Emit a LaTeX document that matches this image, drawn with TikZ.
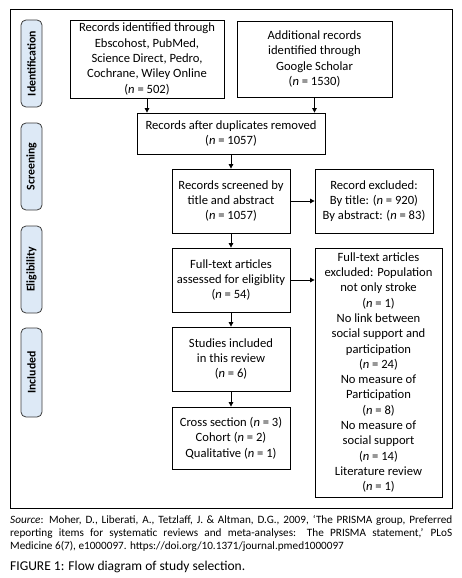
\documentclass[tikz,border=0pt]{standalone}
\usepackage{fontspec}
\setmainfont{Carlito}
\usetikzlibrary{arrows.meta}
\definecolor{lblfill}{RGB}{221,233,246}
\definecolor{lbldraw}{RGB}{60,60,60}
\begin{document}
\begin{tikzpicture}[x=1pt,y=-1pt,
  flowbox/.style={draw=black,line width=0.8pt,align=center,inner sep=1pt,
    font=\fontsize{12.6}{15.3}\selectfont},
  phase/.style={draw=lbldraw,fill=lblfill,line width=0.8pt,rounded corners=5pt,
    rotate=90,minimum height=21pt,inner sep=0pt,font=\fontsize{11.8}{12}\selectfont\bfseries},
  flowarrow/.style={line width=0.8pt,-{Triangle[length=4.5pt,width=4.5pt]}}]
\useasboundingbox (0,0) rectangle (462,578);
\draw[line width=0.8pt] (10,9) rectangle (452,508);
% phase labels
\node[phase,minimum width=87pt] (lid) at (31.5,63.5) {Identification};
\node[phase,minimum width=87pt] (lsc) at (31.5,166.5) {Screening};
\node[phase,minimum width=87pt] (lel) at (31.5,269.5) {Eligibility};
\node[phase,minimum width=89pt] (lin) at (31.5,372.5) {Included};
% boxes
\node[flowbox,minimum width=154pt,minimum height=78pt] (b1) at (147,59)
  {Records identified through\\Ebscohost, PubMed,\\Science Direct, Pedro,\\Cochrane, Wiley Online\\(\textit{n} = 502)};
\node[flowbox,minimum width=155pt,minimum height=76pt] (b2) at (314.5,59)
  {Additional records\\identified through\\Google Scholar\\(\textit{n} = 1530)};
\node[flowbox,minimum width=188pt,minimum height=41pt] (b3) at (231,133.5)
  {Records after duplicates removed\\(\textit{n} = 1057)};
\node[flowbox,minimum width=118pt,minimum height=64pt] (b4) at (231,201)
  {Records screened by\\title and abstract\\(\textit{n} = 1057)};
\node[flowbox,minimum width=118pt,minimum height=64pt] (b5) at (374,201)
  {Record excluded:\\By title: (\textit{n} = 920)\\By abstract: (\textit{n} = 83)};
\node[flowbox,minimum width=118pt,minimum height=64pt] (b6) at (231,280)
  {Full-text articles\\assessed for eligiblity\\(\textit{n} = 54)};
\node[flowbox,minimum width=127pt,minimum height=249pt] (b7) at (378.5,372.5)
  {Full-text articles\\excluded: Population\\not only stroke\\(\textit{n} = 1)\\No link between\\social support and\\participation\\(\textit{n} = 24)\\No measure of\\Participation\\(\textit{n} = 8)\\No measure of\\social support\\(\textit{n} = 14)\\Literature review\\(\textit{n} = 1)};
\node[flowbox,minimum width=118pt,minimum height=64pt] (b8) at (231,359)
  {Studies included\\in this review\\(\textit{n} = 6)};
\node[flowbox,minimum width=118pt,minimum height=62pt] (b9) at (231,438)
  {Cross section (\textit{n} = 3)\\Cohort (\textit{n} = 2)\\Qualitative (\textit{n} = 1)};
% arrows
\draw[flowarrow] (b1.south) -- (b1.south |- b3.north);
\draw[flowarrow] (b2.south) -- (b2.south |- b3.north);
\draw[flowarrow] (b3.south) -- (b4.north);
\draw[flowarrow] (b4.east) -- (b5.west);
\draw[flowarrow] (b4.south) -- (b6.north);
\draw[flowarrow] (b6.east) -- (b6.east -| b7.west);
\draw[flowarrow] (b6.south) -- (b8.north);
\draw[flowarrow] (b8.south) -- (b9.north);
% caption
\node[anchor=north west,inner sep=0pt,text width=442pt,align=justify,
  font=\fontsize{11.2}{13}\selectfont] (src) at (10,515.5)
  {\textit{Source}: Moher, D., Liberati, A., Tetzlaff, J. \& Altman, D.G., 2009, ‘The PRISMA group, Preferred\linebreak
  reporting items for systematic reviews and meta-analyses: The PRISMA statement,’ PLoS\linebreak
  Medicine 6(7), e1000097. https://doi.org/10.1371/journal.pmed1000097};
\node[anchor=base west,inner sep=0pt,font=\fontsize{13.5}{15}\selectfont] (fig) at (10,570.5)
  {FIGURE 1: Flow diagram of study selection.};
\end{tikzpicture}
\end{document}
